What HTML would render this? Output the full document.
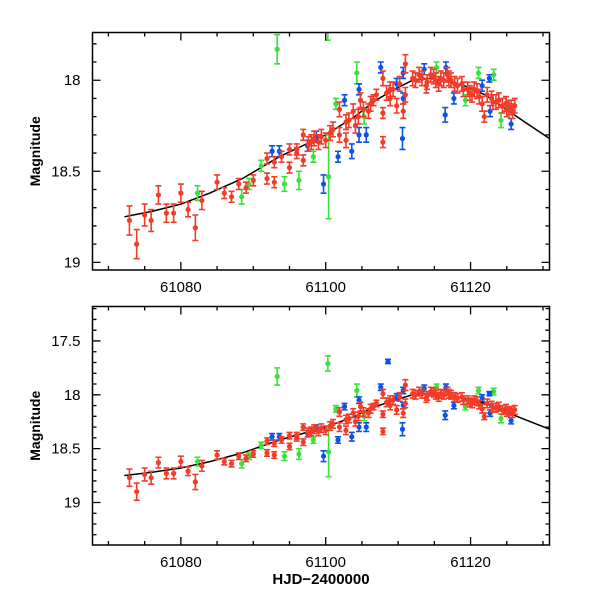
<!DOCTYPE html>
<html><head><meta charset="utf-8">
<style>
html,body{margin:0;padding:0;background:#fff;}
svg{display:block;}
text{font-family:"Liberation Sans",sans-serif;fill:#000;}
</style></head>
<body>
<svg id="chart" width="600" height="600" viewBox="0 0 600 600" xmlns="http://www.w3.org/2000/svg"></svg>
<script>
// ---- data ----
const redX=[61072.9,61073.9,61075.0,61075.9,61076.9,61078.0,61079.0,61080.0,61081.0,61082.0,61082.9,61085.0,61086.0,61087.0,61088.0,61089.0,61090.0,61091.9,61091.9,61092.9,61092.9,61093.9,61095.0,61095.0,61096.0,61096.0,61096.9,61096.9,61098.0,61099.0,61100.0,61101.0,61101.9,61101.9,61102.8,61102.8,61103.8,61104.1,61104.8,61105.9,61106.6,61107.0,61107.9,61107.9,61107.9,61108.9,61108.9,61109.8,61110.7,61111.0,61111.0,61112.0,61112.9,61113.9,61114.5,61115.2,61115.9,61116.8,61117.3,61117.8,61118.8,61119.6,61120.2,61120.9,61121.6,61121.9,61122.9,61123.5,61123.9,61124.9,61125.3,61125.8,61126.1,
61097.6,61098.4,61099.4,61100.6,61103.2,61104.5,61105.2,61106.2,61108.4,61109.3,61110.2,61112.4,61113.3,61114.0,61114.9,61115.6,61116.3,61117.0,61118.2,61119.0,61119.9,61120.5,61121.2,61122.3,61123.1,61124.4,61125.0,61125.6];
const redMag=[18.77,18.90,18.74,18.77,18.63,18.73,18.73,18.62,18.71,18.81,18.66,18.56,18.62,18.64,18.57,18.59,18.55,18.43,18.54,18.45,18.56,18.42,18.38,18.48,18.38,18.40,18.30,18.44,18.34,18.34,18.33,18.27,18.16,18.30,18.23,18.33,18.17,18.25,18.11,18.17,18.11,18.08,17.99,18.18,18.34,18.05,18.10,18.14,18.17,17.91,18.08,17.99,17.97,18.03,17.97,18.00,17.99,17.97,18.00,18.02,18.02,18.05,18.08,18.06,18.13,18.20,18.10,18.12,18.11,18.13,18.15,18.17,18.14,
18.35,18.32,18.31,18.29,18.22,18.20,18.16,18.13,18.07,18.05,18.02,18.00,17.99,18.01,17.98,18.02,18.00,17.99,18.03,18.05,18.07,18.05,18.09,18.08,18.12,18.14,18.16,18.15];
const redErr=[0.08,0.08,0.06,0.06,0.05,0.05,0.05,0.05,0.04,0.07,0.05,0.04,0.03,0.03,0.03,0.03,0.03,0.03,0.03,0.03,0.03,0.03,0.03,0.03,0.03,0.03,0.03,0.03,0.04,0.04,0.04,0.04,0.04,0.04,0.04,0.04,0.04,0.04,0.04,0.04,0.03,0.03,0.04,0.03,0.03,0.04,0.04,0.04,0.04,0.05,0.04,0.04,0.04,0.04,0.04,0.04,0.04,0.04,0.04,0.04,0.04,0.04,0.04,0.04,0.04,0.03,0.04,0.04,0.04,0.04,0.04,0.04,0.04,
0.04,0.04,0.04,0.04,0.04,0.04,0.04,0.04,0.04,0.04,0.04,0.04,0.04,0.04,0.04,0.04,0.04,0.04,0.04,0.04,0.04,0.04,0.04,0.04,0.04,0.04,0.04,0.04];
const greenX=[61082.3,61088.4,61089.4,61091.1,61093.3,61094.3,61096.3,61098.3,61100.3,61100.4,61101.4,61104.3,61105.3,61115.3,61119.3,61121.1,61123.2,61124.2];
const greenMag=[18.62,18.64,18.57,18.47,17.83,18.57,18.55,18.42,17.71,18.53,18.13,17.96,18.20,17.93,18.11,17.96,17.97,18.22];
const greenErr=[0.04,0.04,0.03,0.03,0.08,0.04,0.05,0.03,0.07,0.23,0.03,0.06,0.04,0.03,0.03,0.03,0.03,0.04];
const blueX=[61092.6,61093.6,61097.5,61098.7,61099.7,61101.7,61102.6,61103.6,61104.6,61104.6,61105.6,61107.6,61108.6,61109.8,61110.7,61110.6,61110.7,61113.6,61116.6,61116.5,61117.7,61121.6,61122.6,61122.7,61125.6];
const blueMag=[18.39,18.39,18.36,18.31,18.57,18.42,18.11,18.39,18.05,18.30,18.30,17.93,17.69,18.02,17.96,18.32,18.10,17.94,17.93,18.19,18.10,18.03,17.99,18.17,18.24];
const blueErr=[0.03,0.03,0.03,0.03,0.05,0.03,0.03,0.04,0.03,0.04,0.04,0.03,0.02,0.03,0.03,0.06,0.03,0.03,0.03,0.04,0.03,0.03,0.02,0.03,0.03];
const fitX=[61072.2,61076,61080,61084,61088.5,61093.6,61100,61104,61106.9,61109.5,61112,61114.5,61117,61119.1,61122,61124.2,61127.5,61130.9];
const fitMag=[18.75,18.72,18.68,18.62,18.54,18.42,18.30,18.20,18.11,18.05,18.00,17.99,18.01,18.03,18.08,18.14,18.23,18.32];
const xTicks=[61080,61100,61120];
const topYTicks=[18,18.5,19];
const botYTicks=[17.5,18,18.5,19];

const NS="http://www.w3.org/2000/svg";
const svg=document.getElementById('chart');
function mk(tag,attrs,parent){const e=document.createElementNS(NS,tag);for(const k in attrs)e.setAttribute(k,attrs[k]);(parent||svg).appendChild(e);return e;}

const X0=92.5,X1=549.5,D0=61067.8,D1=61130.9;
function sx(d){return X0+(d-D0)/(D1-D0)*(X1-X0);}

const panels=[
 {name:'top',top:32.5,bot:270,m0:17.738,m1:19.042,yt:topYTicks},
 {name:'bottom',top:306.5,bot:545,m0:17.18,m1:19.395,yt:botYTicks}
];
const colors={red:'#f23c2a',green:'#38e238',blue:'#0d52e8'};

panels.forEach((p,pi)=>{
  const sy=m=>p.top+(m-p.m0)/(p.m1-p.m0)*(p.bot-p.top);
  const g=mk('g',{});
  
  
  const cid='clip'+pi;
  const cp=mk('clipPath',{id:cid},g);
  mk('rect',{x:X0,y:p.top,width:X1-X0,height:p.bot-p.top},cp);
  const plot=mk('g',{'clip-path':'url(#'+cid+')'},g);
  let d='';
  fitX.forEach((x,i)=>{d+=(i?'L':'M')+sx(x).toFixed(1)+','+sy(fitMag[i]).toFixed(1);});
  const fl=mk('path',{d:d,fill:'none',stroke:'#000','stroke-width':1.5},plot);
  
  
  function series(xs,ms,es,col,nm){
    const sg=mk('g',{},plot);
    
    
    xs.forEach((x,i)=>{
      const cx=sx(x),cy=sy(ms[i]),y1=sy(ms[i]-es[i]),y2=sy(ms[i]+es[i]);
      mk('path',{d:`M${cx},${y1}V${y2}M${cx-3},${y1}h6M${cx-3},${y2}h6`,stroke:col,'stroke-width':1.6,fill:'none'},sg);
      const c=mk('circle',{cx:cx,cy:cy,r:2.6,fill:col},sg);
      
      
    });
  }
  series(greenX,greenMag,greenErr,colors.green,'green');
  series(blueX,blueMag,blueErr,colors.blue,'blue');
  series(redX,redMag,redErr,colors.red,'red');
  const fr=mk('rect',{x:X0,y:p.top,width:X1-X0,height:p.bot-p.top,fill:'none',stroke:'#000','stroke-width':1.5},g);
  
  
  let td='';
  for(let v=61070;v<=61130;v+=5){
    const x=sx(v),L=(v%20===0)?8:4;
    td+=`M${x},${p.bot}v${-L}M${x},${p.top}v${L}`;
  }
  for(let k=Math.ceil(p.m0*10);k<=Math.floor(p.m1*10);k++){
    const y=sy(k/10),L=(k%5===0)?8:4;
    td+=`M${X0},${y}h${L}M${X1},${y}h${-L}`;
  }
  mk('path',{d:td,stroke:'#000','stroke-width':1.3,fill:'none'},g);
  xTicks.forEach(v=>{
    const t=mk('text',{x:sx(v),y:p.bot+22,'text-anchor':'middle','font-size':15},g);
    t.textContent=v;
    
    
  });
  p.yt.forEach(v=>{
    const t=mk('text',{x:X0-12,y:sy(v)+5,'text-anchor':'end','font-size':15},g);
    t.textContent=v;
    
    
  });
  const yl=mk('text',{x:0,y:0,'text-anchor':'middle','font-size':14,'font-weight':'bold',transform:`translate(40,${(p.top+p.bot)/2}) rotate(-90)`},g);
  yl.textContent='Magnitude';
  
  
});
const xl=mk('text',{x:321,y:584,'text-anchor':'middle','font-size':15,'font-weight':'bold'});
xl.textContent='HJD\u22122400000';


</script>
</body></html>
